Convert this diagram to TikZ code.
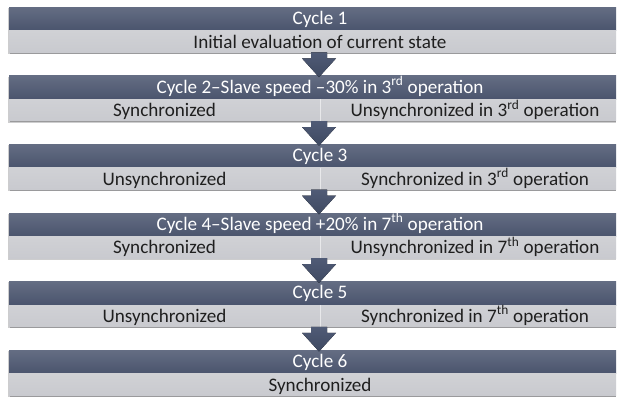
\documentclass[tikz,border=0pt]{standalone}
\usepackage{fontspec}
\setmainfont{Carlito}
\usetikzlibrary{calc}

\definecolor{hdtop}{HTML}{646D83}
\definecolor{hdbot}{HTML}{4A546D}
\definecolor{bodyfill}{HTML}{C9CACF}
\definecolor{bodytop}{HTML}{D0D1D5}
\definecolor{flowtop}{HTML}{505B76}
\definecolor{flowbot}{HTML}{3E4961}
\definecolor{shadowc}{HTML}{9A9A9C}

\begin{document}
\begin{tikzpicture}[x=1bp,y=-1bp,
  header/.style={rectangle, anchor=north west, inner sep=0,
    minimum width=607bp, minimum height=23.5bp,
    top color=hdtop, bottom color=hdbot, draw=none},
  body/.style={rectangle, anchor=north west, inner sep=0,
    minimum width=607bp, minimum height=21.5bp,
    top color=bodytop, bottom color=bodyfill, draw=none},
  htext/.style={anchor=base, inner sep=0, text=white,
    font=\fontsize{19.2}{21}\selectfont},
  btext/.style={anchor=base, inner sep=0, text=black!88,
    font=\fontsize{19.2}{21}\selectfont},
  flow/.style={top color=flowtop, bottom color=flowbot, draw=none},
  divider/.style={draw=white, line width=0.7bp, opacity=0.55}
]
\fill[white] (0,0) rectangle (622,396);
\useasboundingbox (0,0) rectangle (622,396);

% soft shadows under each cycle block
\foreach \t in {7,75.6,144.2,212.8,281.4,350}{
  \fill[shadowc!50] (8,\t+1) rectangle (616,\t+47);
  \fill[shadowc] (10,\t+44) rectangle (616,\t+46.5);
}

% cycle blocks: dark title band over a light body band
\foreach \n/\t in {1/7,2/75.6,3/144.2,4/212.8,5/281.4,6/350}{
  \node[header] (h\n) at (9,\t) {};
  \node[body] (b\n) at (9,\t+23.5) {};
}

% column dividers in the two-column bodies
\foreach \n in {2,3,4,5}
  \draw[divider] ($(b\n.north west)+(311,0)$) -- ($(b\n.south west)+(311,0)$);

% block arrows between consecutive cycles
\foreach \i/\j in {1/2,2/3,3/4,4/5,5/6}{
  \fill[flow] ($(b\i.south west)+(302,0)$) -- ($(b\i.south west)+(318,0)$)
    -- ($(b\i.south west)+(318,6)$) -- ($(b\i.south west)+(327,6)$)
    -- ($(h\j.north west)+(310,1.5)$)
    -- ($(b\i.south west)+(293,6)$) -- ($(b\i.south west)+(302,6)$) -- cycle;
}

% titles
\node[htext] (t1) at (320,7+17.5) {Cycle 1};
\node[htext] (t2) at (320,75.6+17.5) {Cycle 2\textendash Slave speed \textendash30\% in 3\textsuperscript{rd} operation};
\node[htext] (t3) at (320,144.2+17.5) {Cycle 3};
\node[htext] (t4) at (320,212.8+17.5) {Cycle 4\textendash Slave speed +20\% in 7\textsuperscript{th} operation};
\node[htext] (t5) at (320,281.4+17.5) {Cycle 5};
\node[htext] (t6) at (320,350+17.5) {Cycle 6};

% body texts
\node[btext] (s1) at (320,7+41) {Initial evaluation of current state};
\node[btext] (l2) at (164.5,75.6+41) {Synchronized};
\node[btext] (r2) at (475,75.6+41) {Unsynchronized in 3\textsuperscript{rd} operation};
\node[btext] (l3) at (164.5,144.2+41) {Unsynchronized};
\node[btext] (r3) at (475,144.2+41) {Synchronized in 3\textsuperscript{rd} operation};
\node[btext] (l4) at (164.5,212.8+41) {Synchronized};
\node[btext] (r4) at (475,212.8+41) {Unsynchronized in 7\textsuperscript{th} operation};
\node[btext] (l5) at (164.5,281.4+41) {Unsynchronized};
\node[btext] (r5) at (475,281.4+41) {Synchronized in 7\textsuperscript{th} operation};
\node[btext] (s6) at (320,350+41) {Synchronized};
\end{tikzpicture}
\end{document}
